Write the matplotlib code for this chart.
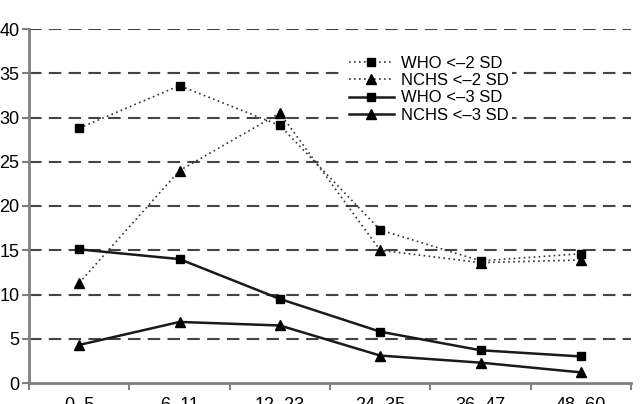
import matplotlib
matplotlib.use("Agg")
import matplotlib.pyplot as plt
import numpy as np

categories = ["0–5", "6–11", "12–23", "24–35", "36–47", "48–60"]
who_2sd = [28.8, 33.6, 29.1, 17.3, 13.8, 14.6]
nchs_2sd = [11.3, 24.0, 30.5, 15.0, 13.6, 13.9]
who_3sd = [15.1, 14.0, 9.5, 5.8, 3.7, 3.0]
nchs_3sd = [4.3, 6.9, 6.5, 3.1, 2.3, 1.2]
yticks = [0, 5, 10, 15, 20, 25, 30, 35, 40]

plt.rcParams['font.family'] = ['Liberation Sans', 'DejaVu Sans']

W, H = 643, 404
fig = plt.figure(figsize=(W/100, H/100), dpi=100)
ax = fig.add_axes([29/W, (H-383)/H, (631-29)/W, (383-29)/H])

x = np.arange(len(categories))
ax.plot(x, who_2sd, linestyle=(0, (1, 2)), color='#333333', lw=1.2, marker='s', ms=6,
        mfc='black', mec='black', label='WHO <–2 SD')
ax.plot(x, nchs_2sd, linestyle=(0, (1, 2)), color='#333333', lw=1.2, marker='^', ms=7,
        mfc='black', mec='black', label='NCHS <–2 SD')
ax.plot(x, who_3sd, linestyle='-', color='#1a1a1a', lw=1.8, marker='s', ms=6,
        mfc='black', mec='black', label='WHO <–3 SD')
ax.plot(x, nchs_3sd, linestyle='-', color='#1a1a1a', lw=1.8, marker='^', ms=7,
        mfc='black', mec='black', label='NCHS <–3 SD')

ax.set_xlim(-0.5, len(categories) - 0.5)
ax.set_ylim(0, 40)
ax.set_yticks(yticks)
ax.set_yticklabels([str(v) for v in yticks])
ax.set_xticks(x)
ax.set_xticklabels(categories)
ax.set_xticks(np.arange(len(categories) + 1) - 0.5, minor=True)
ax.tick_params(axis='x', which='major', length=0, pad=10, labelsize=13)
ax.tick_params(axis='x', which='minor', length=5, width=1.5, color='#808080')
ax.tick_params(axis='y', length=5, width=1.5, color='#808080', pad=2, labelsize=13)

for v in yticks[1:]:
    ax.axhline(v, color='#444444', lw=1.5, linestyle=(0, (6, 3.5)), zorder=0)

for s in ['top', 'right']:
    ax.spines[s].set_visible(False)
for s in ['left', 'bottom']:
    ax.spines[s].set_color('#808080')
    ax.spines[s].set_linewidth(2)

leg = ax.legend(loc='upper left', bbox_to_anchor=(337/W, (H-44)/H), bbox_transform=fig.transFigure,
                frameon=True, fontsize=12, handlelength=2.7, handletextpad=0.45,
                labelspacing=0.14, borderpad=0.2, fancybox=False)
leg.get_frame().set_edgecolor('none')
leg.get_frame().set_facecolor('white')
leg.get_frame().set_alpha(1)

fig.savefig('out.png', dpi=100)
